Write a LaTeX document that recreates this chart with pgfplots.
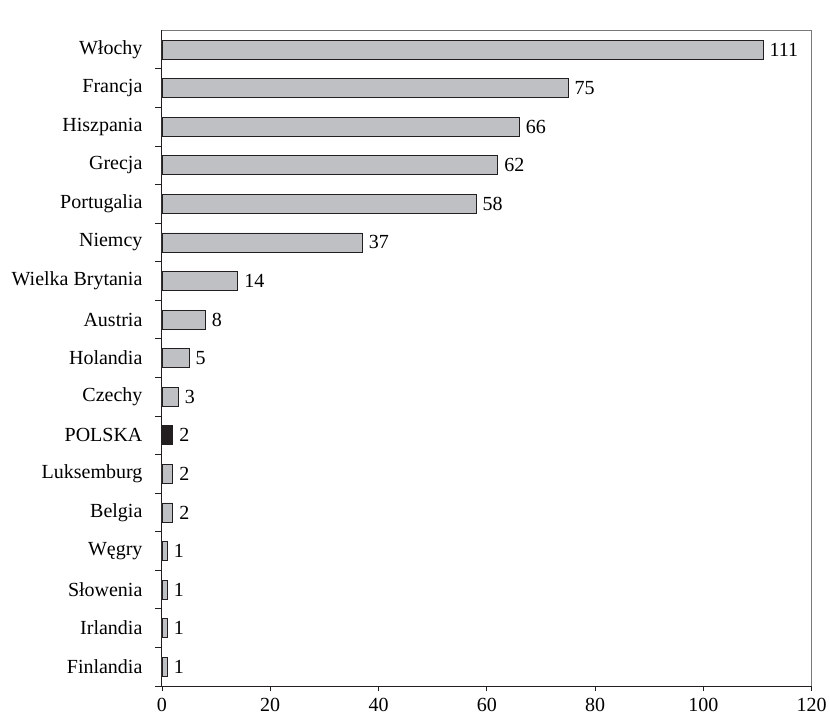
\documentclass[border=0pt]{standalone}
\usepackage{fontspec}
\setmainfont{Liberation Serif}
\usepackage{pgfplots}
\pgfplotsset{compat=1.18}
\newcommand\lbl{\fontsize{20}{24}\selectfont}
\definecolor{bargray}{RGB}{191,192,196}
\definecolor{bardark}{RGB}{35,31,32}
\definecolor{framegray}{RGB}{120,120,120}
\begin{document}
\begin{tikzpicture}
\begin{axis}[
  scale only axis, width=650pt, height=656pt,
  xmin=0, xmax=120, ymin=-0.5, ymax=16.5,
  xtick={0,20,40,60,80,100,120},
  ytick={0,...,16},
  yticklabels={Finlandia,Irlandia,Słowenia,Węgry,Belgia,Luksemburg,POLSKA,Czechy,Holandia,Austria,Wielka Brytania,Niemcy,Portugalia,Grecja,Hiszpania,Francja,Włochy},
  minor ytick={-0.5,0.5,1.5,2.5,3.5,4.5,5.5,6.5,7.5,8.5,9.5,10.5,11.5,12.5,13.5,14.5,15.5},
  major y tick style={draw=none},
  minor y tick style={draw=bardark, line width=0.8pt},
  minor tick length=7pt,
  major tick length=5pt,
  tick align=outside,
  x tick style={bardark, line width=0.8pt},
  axis x line*=bottom, axis y line*=left,
  axis line style={bardark, line width=0.9pt, -},
  every tick label/.append style={font=\lbl, text=black},
  yticklabel style={xshift=-11pt},
  xticklabel style={yshift=-4pt},
  /pgf/number format/assume math mode=true,
  xbar, bar width=19pt, bar shift=0pt,
  nodes near coords,
  every node near coord/.append style={font=\lbl, anchor=west, xshift=3pt, text=black},
  clip=false,
]
\addplot[draw=bardark, line width=0.6pt, fill=bargray] coordinates {
(1,0) (1,1) (1,2) (1,3) (2,4) (2,5) (3,7) (5,8) (8,9) (14,10) (37,11) (58,12) (62,13) (66,14) (75,15) (111,16)};
\addplot[draw=bardark, line width=0.6pt, fill=bardark] coordinates {(2,6)};
\draw[framegray, line width=0.9pt] (rel axis cs:0,1) -- (rel axis cs:1,1) -- (rel axis cs:1,0);
\path (rel axis cs:0,1) -- ++(0,11pt);
\path (rel axis cs:0,0) -- ++(-162pt,0);
\end{axis}
\end{tikzpicture}
\end{document}
